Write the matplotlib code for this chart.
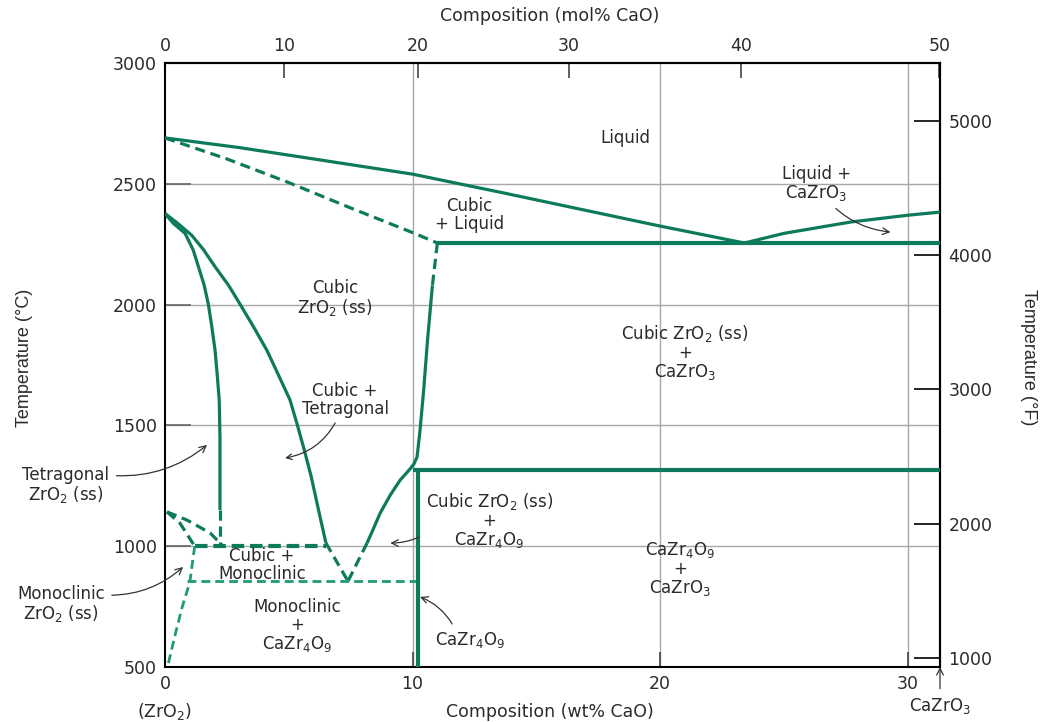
import numpy as np
import matplotlib
matplotlib.use("Agg")
import matplotlib.pyplot as plt

# --- phase boundaries (wt% CaO, deg C) ---
liq_left_wt = [0, 3, 6, 10, 13.5, 17, 20, 23.4]
liq_left_T = [2690, 2650, 2603, 2540, 2466, 2390, 2325, 2255]
liq_right_wt = [23.4, 25, 27.7, 30, 31.3]
liq_right_T = [2255, 2295, 2342, 2370, 2383]
solidus_wt = [0, 2.5, 5, 7.5, 10, 11.0]
solidus_T = [2690, 2603, 2505, 2400, 2298, 2255]
eutectic_wt = [11.0, 31.3]
eutectic_T = [2255, 2255]

cub_dash_wt = [11.0, 10.8]
cub_dash_T = [2255, 2080]
cub_solid_wt = [10.8, 10.6, 10.45, 10.3, 10.18, 10.05, 9.9, 9.5, 9.1, 8.69, 8.36, 8.16]
cub_solid_T = [2080, 1850, 1650, 1480, 1369, 1340, 1320, 1274, 1212, 1137, 1059, 1013]
cub_low_wt = [8.16, 7.39]
cub_low_T = [1013, 855]

ct_wt = [0, 0.47, 1.08, 1.55, 2.02, 2.56, 3.03, 3.57, 4.11, 4.58, 5.05, 5.35, 5.62, 5.9, 6.2, 6.5]
ct_T = [2377, 2340, 2287, 2228, 2157, 2081, 2002, 1909, 1812, 1709, 1605, 1500, 1400,
        1290, 1150, 1013]
ct_low_wt = [6.5, 7.39]
ct_low_T = [1013, 855]

tet_wt = [0, 0.34, 0.81, 1.14, 1.35, 1.58, 1.75, 1.89, 2.02, 2.11, 2.19, 2.22, 2.22]
tet_T = [2377, 2336, 2295, 2226, 2157, 2081, 2002, 1909, 1812, 1709, 1605, 1450, 1150]
tet_low_wt = [2.22, 2.22]
tet_low_T = [1150, 1000]

h1000_wt = [1.2, 6.5]
h1000_T = [1000, 1000]
mono_a_wt = [0.08, 0.6, 1.2]
mono_a_T = [1142, 1096, 1000]
mono_b_wt = [0.08, 0.89, 1.82, 2.3]
mono_b_T = [1142, 1108, 1055, 1005]
mono_solvus_wt = [1.2, 1.0, 0.7, 0.45, 0.1]
mono_solvus_T = [1000, 850, 750, 650, 500]
h850_wt = [0.9, 10.2]
h850_T = [855, 855]

czr_vert_wt = [10.2, 10.2]
czr_vert_T = [500, 1315]
czr_horiz_wt = [10.0, 31.3]
czr_horiz_T = [1315, 1315]

wt_ticks = [0, 10, 20, 30]
mol_ticks = [0, 10, 20, 30, 40, 50]
c_ticks = [500, 1000, 1500, 2000, 2500, 3000]
f_ticks = [1000, 2000, 3000, 4000, 5000]

GREEN = "#0e7a5c"
LIGHT = "#1f9b76"
TXT = "#2b2b2b"


def wt2mol(w):
    w = np.asarray(w, dtype=float)
    a = w / 56.08
    b = (100 - w) / 123.22
    return 100 * a / (a + b)


def mol2wt(m):
    m = np.asarray(m, dtype=float)
    a = m * 56.08
    b = (100 - m) * 123.22
    return 100 * a / (a + b)


fig = plt.figure(figsize=(10.41, 7.22), dpi=100)
ax = fig.add_axes([0.1585, 0.0762, 0.7445, 0.8365])
ax.set_xlim(0, 31.3)
ax.set_ylim(500, 3000)

# grid lines
for w in [10, 20, 30]:
    ax.axvline(w, color="#a8a8a8", lw=1.0, zorder=1)
for t in [1000, 1500, 2000, 2500]:
    ax.axhline(t, color="#a8a8a8", lw=1.0, zorder=1)

solid = dict(color=GREEN, lw=2.3, solid_capstyle="butt", solid_joinstyle="round", zorder=3)
thick = dict(color=GREEN, lw=3.0, solid_capstyle="butt", zorder=3)
dash = dict(color=GREEN, lw=2.3, ls=(0, (3.2, 1.8)), zorder=3)
dash_thick = dict(color=GREEN, lw=3.0, ls=(0, (3.0, 1.4)), zorder=3)
dash_light = dict(color=LIGHT, lw=2.0, ls=(0, (3.2, 1.8)), zorder=3)

ax.plot(liq_left_wt, liq_left_T, **solid)
ax.plot(liq_right_wt, liq_right_T, **solid)
ax.plot(solidus_wt, solidus_T, **dash)
ax.plot(eutectic_wt, eutectic_T, **thick)
ax.plot(cub_dash_wt, cub_dash_T, **dash)
ax.plot(cub_solid_wt, cub_solid_T, **solid)
ax.plot(cub_low_wt, cub_low_T, **dash)
ax.plot(ct_wt, ct_T, **solid)
ax.plot(ct_low_wt, ct_low_T, **dash)
ax.plot(tet_wt, tet_T, **solid)
ax.plot(tet_low_wt, tet_low_T, **dash)
ax.plot(h1000_wt, h1000_T, **dash_thick)
ax.plot(mono_a_wt, mono_a_T, **dash)
ax.plot(mono_b_wt, mono_b_T, **dash)
ax.plot(mono_solvus_wt, mono_solvus_T, **dash_light)
ax.plot(h850_wt, h850_T, **dash_light)
ax.plot(czr_vert_wt, czr_vert_T, **thick)
ax.plot(czr_horiz_wt, czr_horiz_T, **thick)

# axes styling
for s in ax.spines.values():
    s.set_color("black")
    s.set_linewidth(1.5)
ax.set_xticks(wt_ticks)
ax.set_yticks(c_ticks)
ax.tick_params(axis="x", direction="in", length=11, width=1.2, color="#444444",
               labelsize=12.5, labelcolor=TXT, pad=6)
ax.tick_params(axis="y", direction="in", length=19, width=1.2, color="#666666",
               labelsize=12.5, labelcolor=TXT, pad=6)

top = ax.secondary_xaxis("top", functions=(wt2mol, mol2wt))
top.set_xticks(mol_ticks)
top.tick_params(direction="in", length=11, width=1.2, color="#444444",
                labelsize=12.5, labelcolor=TXT, pad=6)
top.spines["top"].set_linewidth(1.5)

right = ax.secondary_yaxis("right", functions=(lambda c: c * 9 / 5 + 32,
                                               lambda f: (f - 32) * 5 / 9))
right.set_yticks(f_ticks)
right.tick_params(direction="in", length=19, width=1.2, color="black",
                  labelsize=12.5, labelcolor=TXT, pad=6)
right.spines["right"].set_linewidth(1.5)

narrow = ["Liberation Sans", "DejaVu Sans"]
fig.text(0.024, 0.505, "Temperature (°C)", rotation=90, ha="center", va="center",
         fontsize=13, color=TXT, family=narrow)
fig.text(0.988, 0.505, "Temperature (°F)", rotation=270, ha="center", va="center",
         fontsize=13, color=TXT, family=narrow)
fig.text(0.528, 0.978, "Composition (mol% CaO)", ha="center", va="center",
         fontsize=12.5, color=TXT)
fig.text(0.528, 0.014, "Composition (wt% CaO)", ha="center", va="center",
         fontsize=12.5, color=TXT)
fig.text(0.158, 0.014, "(ZrO$_2$)", ha="center", va="center", fontsize=12.5, color=TXT)

lab = dict(ha="center", va="center", fontsize=12, color=TXT, linespacing=1.0, zorder=5)
ax.text(18.6, 2690, "Liquid", **lab)
ax.text(12.3, 2371, "Cubic\n+ Liquid", **lab)
ax.text(6.87, 2025, "Cubic\nZrO$_2$ (ss)", **lab)
ax.text(21.0, 1800, "Cubic ZrO$_2$ (ss)\n+\nCaZrO$_3$", **lab)
ax.text(20.8, 905, "CaZr$_4$O$_9$\n+\nCaZrO$_3$", **lab)
ax.text(3.92, 922, "Cubic +\nMonoclinic", **lab)
ax.text(5.33, 668, "Monoclinic\n+\nCaZr$_4$O$_9$", **lab)
ax.text(7.27, 1605, "Cubic +\nTetragonal", **lab)

arr = dict(arrowstyle="->", color="#333333", lw=0.9, shrinkA=3, shrinkB=0)
ann = dict(ha="center", va="center", fontsize=12, color=TXT, linespacing=1.0,
           annotation_clip=False)

ax.annotate("Liquid +\nCaZrO$_3$", xy=(29.3, 2300), xytext=(26.3, 2500),
            arrowprops=dict(connectionstyle="arc3,rad=0.25", **arr), **ann)
ax.annotate("", xy=(4.85, 1365), xytext=(6.95, 1525),
            arrowprops=dict(connectionstyle="arc3,rad=-0.25", **arr))
ax.annotate("Tetragonal\nZrO$_2$ (ss)", xy=(1.70, 1419), xytext=(-4.0, 1253),
            arrowprops=dict(connectionstyle="arc3,rad=0.2", relpos=(1.0, 0.75), **arr), **ann)
ax.annotate("Cubic ZrO$_2$ (ss)\n+\nCaZr$_4$O$_9$", xy=(9.1, 1013), xytext=(13.1, 1105),
            arrowprops=dict(connectionstyle="arc3,rad=-0.2", relpos=(0.1, 0.45), **arr), **ann)
ax.annotate("Monoclinic\nZrO$_2$ (ss)", xy=(0.73, 914), xytext=(-4.2, 757),
            arrowprops=dict(connectionstyle="arc3,rad=0.2", relpos=(1.0, 0.75), **arr), **ann)
ax.annotate("CaZr$_4$O$_9$", xy=(10.3, 790), xytext=(12.3, 610),
            arrowprops=dict(connectionstyle="arc3,rad=0.2", relpos=(0.3, 1.0), **arr), **ann)
ax.annotate("CaZrO$_3$", xy=(31.3, 500), xytext=(31.3, 340),
            arrowprops=dict(connectionstyle="arc3,rad=0", relpos=(0.5, 1.0), **arr), **ann)

fig.savefig("out.png", dpi=100)
